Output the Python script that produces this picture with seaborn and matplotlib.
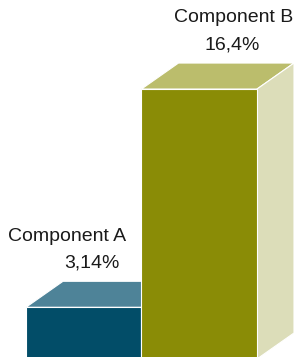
import matplotlib
matplotlib.use("Agg")
import matplotlib.pyplot as plt
import seaborn as sns
import pandas as pd
from matplotlib.patches import Polygon

# data
components = ["Component A", "Component B"]
values = [3.14, 16.4]
value_labels = ["3,14%", "16,4%"]

# colours per bar: front, top, side
front_colors = ["#024D68", "#8A8C06"]
top_colors = ["#4E8398", "#BBBD6C"]
side_colors = ["#9DB9C5", "#DCDDB9"]

DEPTH_PX = (37, 26)  # 3d depth offset in pixels

sns.set_theme(style="white")
plt.rcParams["font.family"] = ["Liberation Sans", "DejaVu Sans"]

df = pd.DataFrame({"component": components, "value": values})

fig = plt.figure(figsize=(2.98, 3.57), dpi=100)
ax = fig.add_axes([0, 0, 1, 1])

sns.barplot(data=df, x="component", y="value", hue="component",
            palette=front_colors, saturation=1, width=1.0, legend=False,
            ax=ax, edgecolor="white", linewidth=0.8, zorder=1)

ax.set_xlim(-0.725, 1.855)
ax.set_ylim(0.12, 21.81)
ax.axis("off")

# depth offset in data units
inv = ax.transData.inverted()
p0 = inv.transform((0, 0))
p1 = inv.transform(DEPTH_PX)
dx, dy = p1[0] - p0[0], p1[1] - p0[1]

for i, bar in enumerate(list(ax.patches)):
    x0 = bar.get_x()
    x1 = x0 + bar.get_width()
    h = bar.get_height()
    z = 2 * i + 1
    bar.set_zorder(z + 0.5)
    top = Polygon([(x0, h), (x1, h), (x1 + dx, h + dy), (x0 + dx, h + dy)],
                  closed=True, facecolor=top_colors[i], edgecolor="white",
                  linewidth=0.8, zorder=z)
    side = Polygon([(x1, 0), (x1, h), (x1 + dx, h + dy), (x1 + dx, dy)],
                   closed=True, facecolor=side_colors[i], edgecolor="white",
                   linewidth=0.8, zorder=z)
    ax.add_patch(top)
    ax.add_patch(side)

# labels (x positions in category units, y offsets above the bar value)
name_x = [-0.145, 1.301]
value_x = [0.072, 1.284]
for i in range(len(values)):
    h = values[i]
    ax.text(name_x[i], h + 4.32, components[i], ha="center", va="center",
            fontsize=14, color="#1a1a1a")
    ax.text(value_x[i], h + 2.68, value_labels[i], ha="center", va="center",
            fontsize=14, color="#1a1a1a")

fig.savefig("out.png", dpi=100)
